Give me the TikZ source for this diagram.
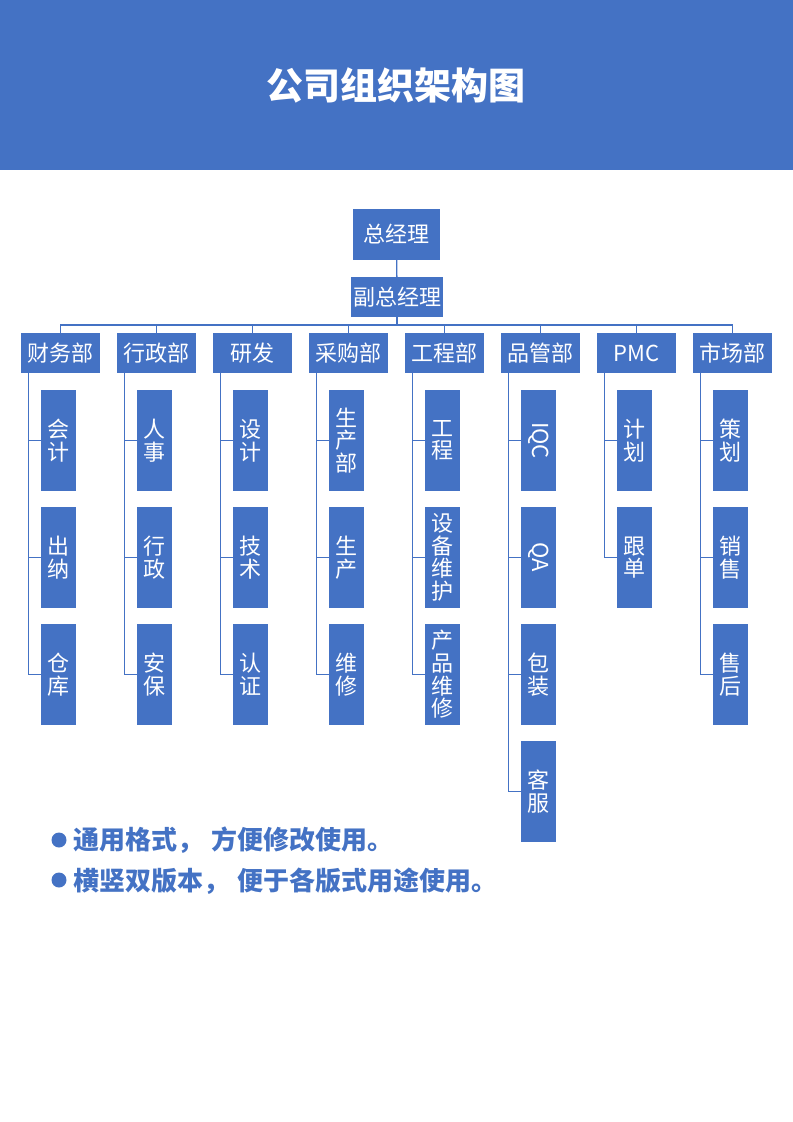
\documentclass[tikz,border=0pt]{standalone}
\usepackage{fontspec}
\usepackage{graphicx}
\setmainfont{Noto Sans CJK SC}
\definecolor{mblue}{HTML}{4472C4}
\def\px{0.75pt}
\begin{document}
\begin{tikzpicture}[x=0.75pt,y=-0.75pt,
  box/.style={fill=mblue,text=white,inner sep=0pt,outer sep=0pt,align=center,
    font=\fontsize{16.5pt}{17pt}\selectfont},
  dept/.style={box,minimum width=79*\px,minimum height=40*\px},
  child/.style={box,minimum width=35*\px,minimum height=101*\px},
  link/.style={draw=mblue,line width=1pt},
  bullettext/.style={anchor=west,inner sep=0pt,text=mblue,font=\fontsize{19.5pt}{22pt}\selectfont\bfseries}]
\useasboundingbox (0,0) rectangle (793,1122);
\fill[mblue] (0,0) rectangle (793,170);
\node[text=white,font=\fontsize{27.75pt}{30pt}\selectfont\bfseries] (title) at (396,85) {公司组织架构图};

\node[box,minimum width=87*\px,minimum height=51*\px] (gm) at (396.5,234.5) {总经理};
\node[box,minimum width=92*\px,minimum height=40*\px] (vgm) at (397,297) {副总经理};
\draw[link] (gm) -- (vgm);

\foreach \i/\t in {0/财务部,1/行政部,2/研发,3/采购部,4/工程部,5/品管部,6/PMC,7/市场部}{
  \node[dept] (d\i) at (60.5+96*\i,353) {\t};
  \draw[link] (vgm.south) -- ++(0,8) -| (d\i.north);
}

% children
\foreach \i/\list in {
  0/{会\\计,出\\纳,仓\\库},
  1/{人\\事,行\\政,安\\保},
  2/{设\\计,技\\术,认\\证},
  3/{生\\产\\部,生\\产,维\\修},
  4/{工\\程,设\\备\\维\\护,产\\品\\维\\修},
  5/{\rotatebox{-90}{IQC},\rotatebox{-90}{QA},包\\装,客\\服},
  6/{计\\划,跟\\单},
  7/{策\\划,销\\售,售\\后}}{
  \foreach \t [count=\j from 0] in \list {
    \node[child] (c\i-\j) at (58.5+96*\i,440.5+117*\j) {\t};
    \draw[link] ([xshift=7.5*\px]d\i.south west) |- (c\i-\j.west);
  }
}

\fill[mblue] (59,840) circle[radius=7.5];
\fill[mblue] (59,880) circle[radius=7.5];
\node[bullettext] (b1) at (73,840) {通用格式，\hspace{0.3em}方便修改使用。};
\node[bullettext] (b2) at (73,881) {横竖双版本，\hspace{0.3em}便于各版式用途使用。};
\end{tikzpicture}
\end{document}
